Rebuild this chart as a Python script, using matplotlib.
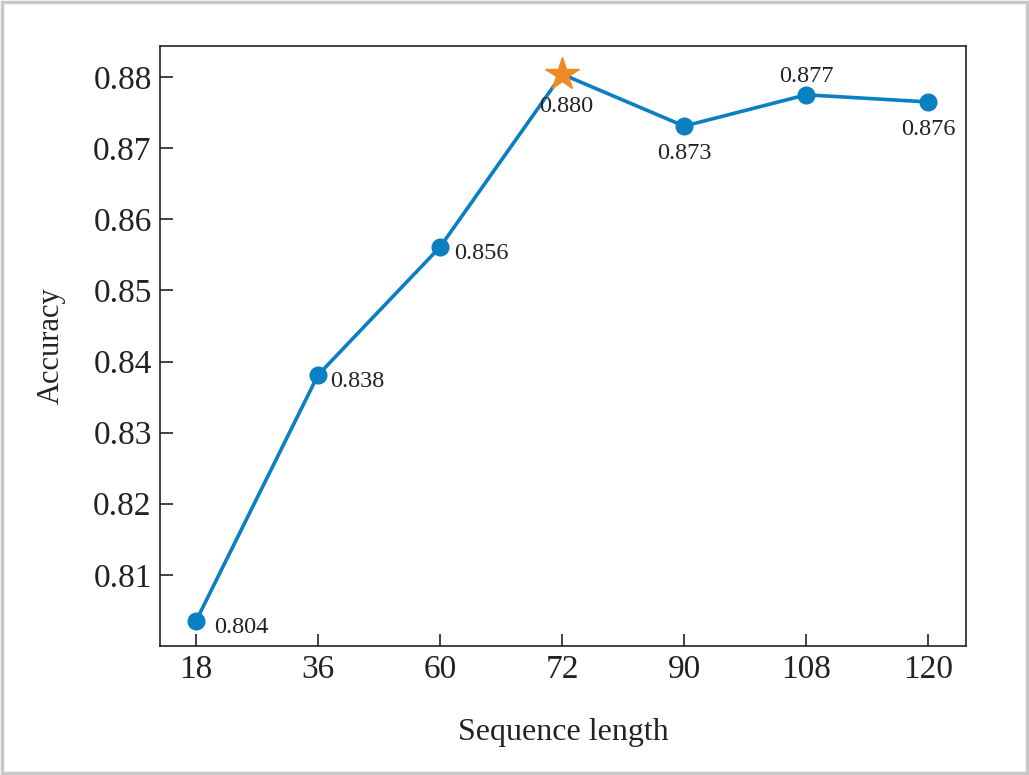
import numpy as np
import matplotlib
matplotlib.use('Agg')
import matplotlib.pyplot as plt
from matplotlib.patches import Rectangle

seq_len = ['18', '36', '60', '72', '90', '108', '120']
accuracy = [0.8035, 0.8381, 0.8561, 0.8804, 0.8731, 0.8775, 0.8765]
labels = ['0.804', '0.838', '0.856', '0.880', '0.873', '0.877', '0.876']
best = 3

# label offsets in points and alignment for each point
offsets = [(13, -4.5), (9, -5), (10, -5), (3, -23.5), (0, -20), (0, 13.5), (0, -20)]
aligns = ['left', 'left', 'left', 'center', 'center', 'center', 'center']

plt.rcParams['font.family'] = ['Liberation Serif', 'DejaVu Serif']

blue = '#0a7fc2'
orange = '#f08a24'

fig = plt.figure(figsize=(10.29, 7.75), dpi=100)
ax = fig.add_axes([0.1555, 0.1665, 0.7833, 0.7741])

x = np.arange(len(seq_len))
ax.plot(x, accuracy, color=blue, lw=2.6, zorder=2)
others = [i for i in x if i != best]
ax.plot(x[others], np.array(accuracy)[others], 'o', color=blue, ms=12, zorder=3)
ax.plot(x[best], accuracy[best], '*', color=orange, ms=25, zorder=4)

for i in x:
    ax.annotate(labels[i], (x[i], accuracy[i]), xytext=offsets[i],
                textcoords='offset points', ha=aligns[i], va='center',
                fontsize=17.5, color='#222222')

ax.set_xlim(-0.295, 6.31)
ax.set_ylim(0.8000, 0.88436)
ax.set_xticks(x)
ax.set_xticklabels(seq_len)
ax.set_yticks([0.81, 0.82, 0.83, 0.84, 0.85, 0.86, 0.87, 0.88])
ax.tick_params(direction='in', length=9, width=1.2, labelsize=24,
               colors='#222222', top=False, right=False, pad=6)
for s in ax.spines.values():
    s.set_linewidth(1.2)
    s.set_color('#222222')

ax.set_xlabel('Sequence length', fontsize=23, labelpad=24, color='#222222')
ax.set_ylabel('Accuracy', fontsize=22, labelpad=20, color='#222222')

fig.patches.append(Rectangle((0.0015, 0.002), 0.997, 0.996, transform=fig.transFigure,
                             fill=False, edgecolor='#c8c8c8', lw=2.5))

fig.savefig('out.png', dpi=100)
